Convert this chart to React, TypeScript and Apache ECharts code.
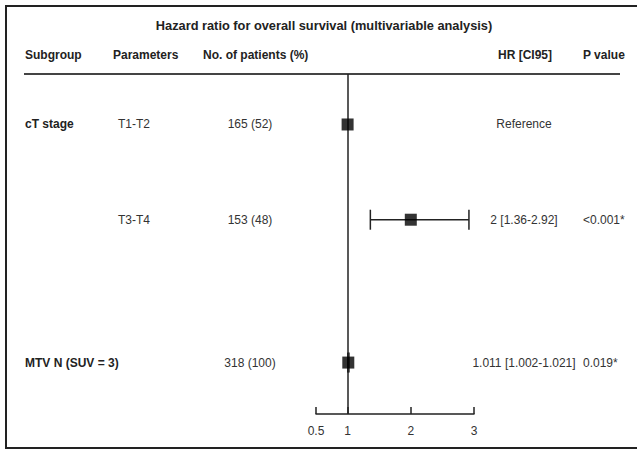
import React, { useEffect, useRef } from "react";
import * as echarts from "echarts";

const subgroups = ["cT stage", "", "MTV N (SUV = 3)"];
const parameters = ["T1-T2", "T3-T4", ""];
const patients = ["165 (52)", "153 (48)", "318 (100)"];
const hazardRatios = [1, 2, 1.011];
const ciLow: (number | null)[] = [null, 1.36, 1.002];
const ciHigh: (number | null)[] = [null, 2.92, 1.021];
const hrTexts = ["Reference", "2 [1.36-2.92]", "1.011 [1.002-1.021]"];
const pValues = ["", "<0.001*", "0.019*"];
const rowPositions = [1, 3, 6];
const xTicks = [0.5, 1, 2, 3];
const headers = ["Subgroup", "Parameters", "No. of patients (%)", "HR [CI95]", "P value"];
const titleText = "Hazard ratio for overall survival (multivariable analysis)";

const FONT = "'Liberation Sans', Arial, Helvetica, sans-serif";

export default function App() {
  const ref = useRef<HTMLDivElement>(null);

  useEffect(() => {
    if (!ref.current) return;
    const chart = echarts.init(ref.current, undefined, { renderer: "svg" });

    const columns: { x: number; align: string; bold: boolean; values: string[] }[] = [
      { x: 25, align: "left", bold: true, values: subgroups },
      { x: 118, align: "left", bold: false, values: parameters },
      { x: 250, align: "center", bold: false, values: patients },
      { x: 524, align: "center", bold: false, values: hrTexts },
      { x: 583, align: "left", bold: false, values: pValues },
    ];
    const headerPos: { x: number; align: string }[] = [
      { x: 25, align: "left" },
      { x: 113, align: "left" },
      { x: 203, align: "left" },
      { x: 552, align: "right" },
      { x: 583, align: "left" },
    ];

    const textData: any[] = [];
    columns.forEach((c, ci) => {
      c.values.forEach((v, ri) => {
        if (v) textData.push([rowPositions[ri], ci, v]);
      });
    });

    const ciData: any[] = [];
    rowPositions.forEach((r, i) => {
      if (ciLow[i] != null && ciHigh[i] != null) ciData.push([r, ciLow[i], ciHigh[i]]);
    });

    const option: any = {
      animation: false,
      backgroundColor: "#ffffff",
      grid: { left: 316, width: 158, top: 74, height: 340, containLabel: false },
      xAxis: {
        type: "value",
        min: 0.5,
        max: 3,
        splitLine: { show: false },
        axisLine: { show: true, onZero: false, lineStyle: { color: "#222", width: 1.5 } },
        axisTick: {
          show: true,
          inside: true,
          length: 7,
          customValues: xTicks,
          lineStyle: { color: "#222", width: 1.5 },
        },
        axisLabel: {
          customValues: xTicks,
          color: "#333",
          fontFamily: FONT,
          fontSize: 12,
          margin: 11,
          formatter: (v: number) => String(v),
        },
      },
      yAxis: {
        type: "value",
        min: -0.06,
        max: 7.08,
        inverse: true,
        show: false,
      },
      graphic: [
        {
          type: "rect",
          shape: { x: 6, y: 6, width: 640, height: 442 },
          style: { fill: "none", stroke: "#222", lineWidth: 2 },
          silent: true,
        },
        {
          type: "text",
          x: 324,
          y: 25,
          style: {
            text: titleText,
            font: `bold 12.8px ${FONT}`,
            fill: "#222",
            textAlign: "center",
            textVerticalAlign: "middle",
            align: "center",
            verticalAlign: "middle",
          },
        },
        ...headers.map((h, i) => ({
          type: "text",
          x: headerPos[i].x,
          y: 55,
          style: {
            text: h,
            font: `bold 12px ${FONT}`,
            fill: "#222",
            textAlign: headerPos[i].align,
            textVerticalAlign: "middle",
            align: headerPos[i].align,
            verticalAlign: "middle",
          },
        })),
        {
          type: "line",
          shape: { x1: 24, y1: 74, x2: 620, y2: 74 },
          style: { stroke: "#444", lineWidth: 2 },
        },
      ],
      series: [
        {
          type: "custom",
          clip: false,
          data: ciData,
          encode: { x: [1, 2], y: 0 },
          renderItem: (params: any, api: any) => {
            const y = api.value(0);
            const p1 = api.coord([api.value(1), y]);
            const p2 = api.coord([api.value(2), y]);
            const st = { stroke: "#222", lineWidth: 1.5 };
            return {
              type: "group",
              children: [
                { type: "line", shape: { x1: p1[0], y1: p1[1], x2: p2[0], y2: p2[1] }, style: st },
                { type: "line", shape: { x1: p1[0], y1: p1[1] - 10, x2: p1[0], y2: p1[1] + 10 }, style: st },
                { type: "line", shape: { x1: p2[0], y1: p2[1] - 10, x2: p2[0], y2: p2[1] + 10 }, style: st },
              ],
            };
          },
          markLine: {
            silent: true,
            symbol: "none",
            label: { show: false },
            lineStyle: { color: "#222", width: 1.5, type: "solid" },
            data: [{ xAxis: 1 }],
          },
          z: 2,
        },
        {
          type: "scatter",
          symbol: "rect",
          symbolSize: 12,
          itemStyle: { color: "#000" },
          data: hazardRatios.map((v, i) => [v, rowPositions[i]]),
          z: 5,
        },
        {
          type: "custom",
          clip: false,
          data: textData,
          encode: { y: 0 },
          renderItem: (params: any, api: any) => {
            const row = api.value(0);
            const ci = api.value(1);
            const text = textData[params.dataIndex][2];
            const col = columns[ci];
            const y = api.coord([1, row])[1];
            return {
              type: "text",
              x: col.x,
              y: y,
              style: {
                text,
                font: `${col.bold ? "bold " : ""}12px ${FONT}`,
                fill: col.bold ? "#222" : "#333",
                textAlign: col.align,
                textVerticalAlign: "middle",
                align: col.align,
                verticalAlign: "middle",
              },
            };
          },
        },
      ],
    };

    chart.setOption(option);
    return () => chart.dispose();
  }, []);

  return (
    <div
      ref={ref}
      style={{ position: "fixed", left: 0, top: 0, width: 637, height: 450 }}
    />
  );
}
